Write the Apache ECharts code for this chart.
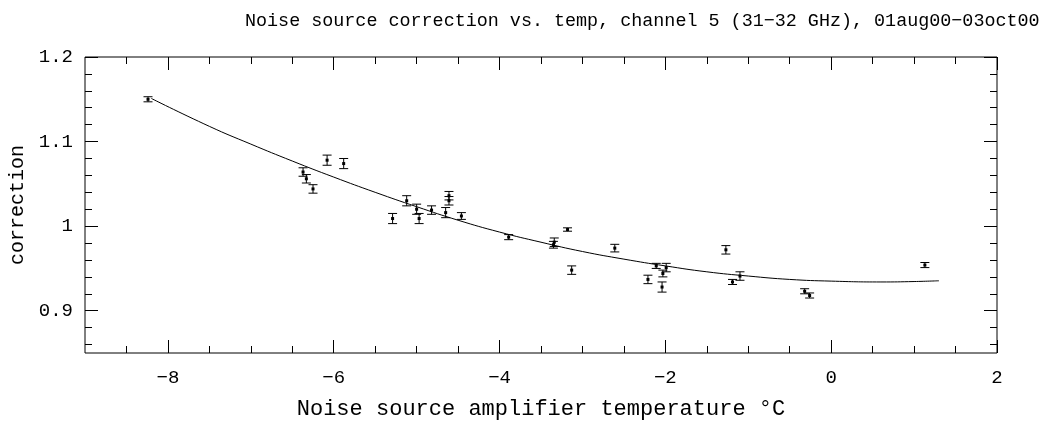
<!DOCTYPE html>
<html><head><meta charset="utf-8">
<script src="https://cdn.jsdelivr.net/npm/echarts@6/dist/echarts.min.js"></script>
<style>html,body{margin:0;padding:0;background:#fff}#c{width:1050px;height:421px}</style>
</head><body><div id="c"></div>
<script>
// measured points: temperature (°C), correction, error half-height
const temps = [-8.24,-6.37,-6.33,-6.25,-6.08,-5.88,-5.29,-5.12,-5.00,-4.97,-4.82,-4.65,-4.61,-4.61,-4.46,
  -3.89,-3.34,-3.35,-3.18,-3.13,-2.61,-2.21,-2.11,-1.99,-2.03,-2.04,-1.27,-1.19,-1.10,-0.32,-0.26,1.13];
const corrs = [1.150,1.064,1.056,1.044,1.078,1.074,1.009,1.030,1.020,1.009,1.019,1.016,1.036,1.030,1.012,
  0.987,0.981,0.978,0.996,0.948,0.974,0.937,0.953,0.951,0.944,0.928,0.972,0.934,0.941,0.923,0.918,0.954];
const errs  = [0.003,0.005,0.005,0.005,0.006,0.006,0.006,0.006,0.006,0.006,0.005,0.006,0.005,0.005,0.004,
  0.003,0.005,0.004,0.002,0.005,0.0045,0.005,0.003,0.005,0.004,0.006,0.005,0.003,0.005,0.003,0.003,0.003];
// fitted curve
const fitX = [-8.2,-7.5,-7.0,-6.5,-6.0,-5.5,-5.0,-4.5,-4.0,-3.5,-3.0,-2.5,-2.0,-1.5,-1.0,-0.5,0.0,0.6,1.0,1.3];
const fitY = [1.151,1.118,1.097,1.077,1.058,1.040,1.023,1.007,0.993,0.981,0.970,0.961,0.953,0.946,0.941,0.937,0.935,0.934,0.9345,0.9354];
// axis ticks
const xMajor = [-8,-6,-4,-2,0,2];
const xMinor = [-8.5,-7.5,-7,-6.5,-5.5,-5,-4.5,-3.5,-3,-2.5,-1.5,-1,-0.5,0.5,1,1.5];
const yMajor = [0.9,1.0,1.1,1.2];
const yMinor = [0.86,0.88,0.92,0.94,0.96,0.98,1.02,1.04,1.06,1.08,1.12,1.14,1.16,1.18];

const FONT = 'Liberation Mono';
const chart = echarts.init(document.getElementById('c'));
const fmtX = v => v < 0 ? '\u2212' + Math.abs(v) : String(v);
const fmtY = v => String(Math.round(v*10)/10);

function xAx(pos, vals, len, labels, name) {
  return {type:'value', min:-9, max:2, position:pos, gridIndex:0,
    axisLine:{show:false, onZero:false}, splitLine:{show:false},
    axisTick:{show:true, inside:true, length:len, customValues:vals, lineStyle:{color:'#000',width:1}},
    axisLabel: labels ? {show:true, customValues:vals, formatter:fmtX, color:'#000', fontFamily:FONT, fontSize:19, margin:15} : {show:false},
    name: name || '', nameLocation:'middle', nameGap:45,
    nameTextStyle:{color:'#000', fontFamily:FONT, fontSize:22}};
}
function yAx(pos, vals, len, labels, name) {
  return {type:'value', min:0.85, max:1.2, position:pos, gridIndex:0,
    axisLine:{show:false, onZero:false}, splitLine:{show:false},
    axisTick:{show:true, inside:true, length:len, customValues:vals, lineStyle:{color:'#000',width:1}},
    axisLabel: labels ? {show:true, customValues:vals, formatter:fmtY, color:'#000', fontFamily:FONT, fontSize:19, margin:12} : {show:false},
    name: name || '', nameLocation:'middle', nameGap:56,
    nameTextStyle:{color:'#000', fontFamily:FONT, fontSize:20}};
}

chart.setOption({
  animation:false,
  backgroundColor:'#fff',
  title:{text:'Noise source correction vs. temp, channel 5 (31\u221232 GHz), 01aug00\u221203oct00',
    left:240, top:7, textStyle:{color:'#000', fontFamily:FONT, fontSize:18.4, fontWeight:'normal'}},
  grid:{left:85, right:53, top:57, bottom:68, show:true, borderColor:'#000', borderWidth:1, backgroundColor:'transparent',
    containLabel:false, outerBoundsMode:'none'},
  xAxis:[xAx('bottom', xMajor, 13, true, 'Noise source amplifier temperature \u00b0C'),
         xAx('bottom', xMinor, 7, false), xAx('top', xMajor, 13, false), xAx('top', xMinor, 7, false)],
  yAxis:[yAx('left', yMajor, 13, true, 'correction'),
         yAx('left', yMinor, 7, false), yAx('right', yMajor, 13, false), yAx('right', yMinor, 7, false)],
  series:[
    {type:'line', xAxisIndex:0, yAxisIndex:0, data: fitX.map((x,i)=>[x, fitY[i]]),
      smooth:true, showSymbol:false, symbol:'none', lineStyle:{color:'#000', width:1}},
    {type:'custom', xAxisIndex:0, yAxisIndex:0,
      data: temps.map((x,i)=>[x, corrs[i], errs[i]]),
      encode:{x:0, y:1},
      renderItem:function(params, api){
        const x = api.value(0), y = api.value(1), e = api.value(2);
        const t = api.coord([x, y+e]), b = api.coord([x, y-e]), c = api.coord([x, y]);
        const hw = 4.5;
        const st = {stroke:'#000', lineWidth:1};
        return {type:'group', children:[
          {type:'line', shape:{x1:t[0], y1:t[1], x2:b[0], y2:b[1]}, style:st},
          {type:'line', shape:{x1:t[0]-hw, y1:t[1], x2:t[0]+hw, y2:t[1]}, style:st},
          {type:'line', shape:{x1:b[0]-hw, y1:b[1], x2:b[0]+hw, y2:b[1]}, style:st},
          {type:'rect', shape:{x:c[0]-1.5, y:c[1]-1.5, width:3, height:3}, style:{fill:'#000'}}
        ]};
      }}
  ]
});
</script></body></html>
